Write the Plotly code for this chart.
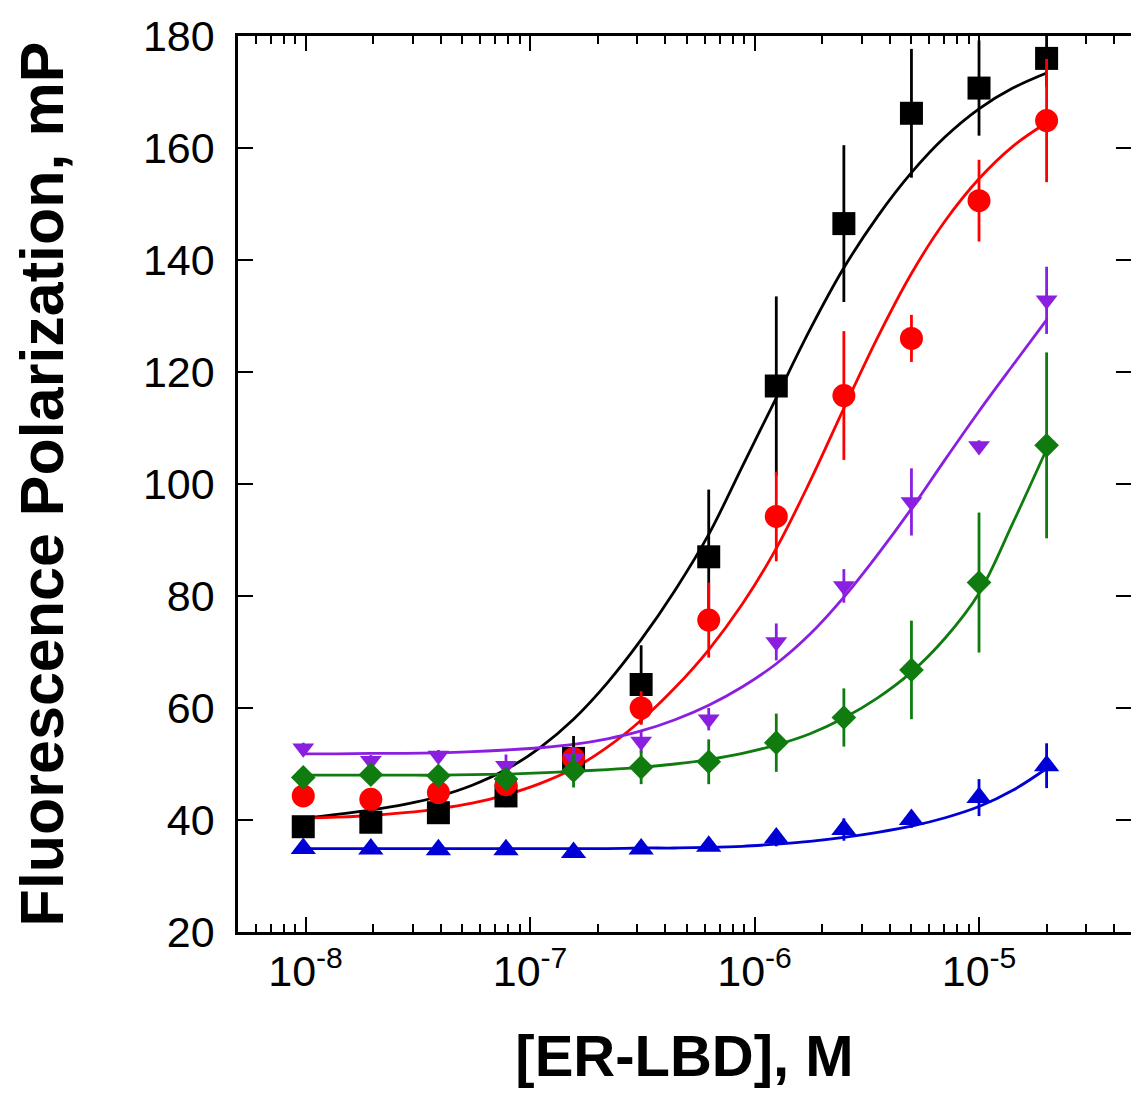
import plotly.graph_objects as go

# ---------------- data ----------------
conc = [9.766e-9, 1.953e-8, 3.906e-8, 7.813e-8, 1.5625e-7, 3.125e-7,
        6.25e-7, 1.25e-6, 2.5e-6, 5e-6, 1e-5, 2e-5]

black_y = [38.8, 39.6, 41.3, 44.3, 51.0, 64.2, 87.0, 117.5, 146.5, 166.2, 170.7, 176.0]
black_err = [1.0, 1.0, 1.0, 2.0, 4.0, 7.0, 12.0, 16.0, 14.0, 11.5, 8.5, 5.0]

red_y = [44.3, 43.7, 44.9, 46.3, 51.0, 60.0, 75.7, 94.2, 115.8, 126.0, 150.6, 164.9]
red_err = [1.0, 1.0, 1.0, 1.0, 2.0, 3.0, 6.7, 8.0, 11.5, 4.2, 7.3, 11.0]

purple_y = [52.8, 50.6, 51.5, 49.7, 51.0, 54.0, 58.0, 71.8, 81.8, 96.8, 106.8, 132.8]
purple_err = [1.0, 1.0, 1.0, 2.0, 2.0, 2.0, 2.0, 3.3, 3.0, 6.0, 1.0, 6.0]

green_y = [47.6, 48.1, 47.9, 47.3, 48.8, 49.4, 50.4, 53.8, 58.3, 66.8, 82.4, 106.9]
green_err = [1.0, 1.0, 1.0, 1.0, 3.0, 3.0, 4.0, 5.2, 5.2, 8.8, 12.5, 16.6]

blue_y = [34.9, 34.8, 34.7, 34.7, 34.2, 34.8, 35.3, 36.8, 38.3, 40.1, 44.0, 49.7]
blue_err = [0.5, 0.5, 0.5, 0.5, 0.5, 0.5, 0.8, 1.5, 2.0, 1.5, 3.3, 4.0]

# fitted curves
fit_x = [9.766e-9, 1.381e-8, 1.953e-8, 2.762e-8, 3.906e-8, 5.524e-8, 7.813e-8,
         1.105e-7, 1.5625e-7, 2.210e-7, 3.125e-7, 4.419e-7, 6.25e-7, 8.839e-7,
         1.25e-6, 1.768e-6, 2.5e-6, 3.536e-6, 5e-6, 7.071e-6, 1e-5, 1.414e-5, 2e-5]
fit_black = [40.3, 41.0, 41.8, 42.8, 44.2, 46.2, 49.0, 52.9, 58.0, 64.5, 72.2, 81.0,
             91.0, 103.2, 115.4, 127.6, 138.6, 147.8, 155.6, 162.0, 167.0, 170.7, 173.4]
fit_red = [40.3, 40.5, 40.8, 41.3, 42.0, 43.0, 44.5, 46.5, 49.2, 53.0, 57.8, 63.6,
           70.4, 78.6, 88.5, 100.5, 113.5, 126.2, 137.6, 147.0, 154.5, 160.3, 164.5]
fit_purple = [51.8, 51.8, 51.9, 51.9, 52.0, 52.2, 52.5, 52.9, 53.5, 54.5, 55.9, 57.9,
              60.5, 63.8, 67.9, 73.2, 79.8, 87.4, 95.6, 104.4, 113.0, 121.2, 129.3]
fit_green = [48.0, 48.0, 48.0, 48.0, 48.0, 48.1, 48.2, 48.4, 48.7, 49.0, 49.4, 50.0,
             50.8, 51.9, 53.4, 55.4, 58.2, 61.8, 66.4, 72.5, 80.5, 93.0, 106.2]
fit_blue = [34.9, 34.9, 34.9, 34.9, 34.9, 34.9, 34.9, 34.9, 34.9, 34.9, 35.0, 35.0,
            35.1, 35.3, 35.7, 36.2, 36.9, 37.8, 38.9, 40.4, 42.4, 45.3, 49.2]

x_tickvals = [1e-8, 1e-7, 1e-6, 1e-5]
x_ticktext = ["10<sup>-8</sup>", "10<sup>-7</sup>", "10<sup>-6</sup>", "10<sup>-5</sup>"]
y_tickvals = [20, 40, 60, 80, 100, 120, 140, 160, 180]
y_range = [20, 180]

# ---------------- figure ----------------
series = [
    ("black", black_y, black_err, fit_black, "#000000", "square", 23),
    ("red", red_y, red_err, fit_red, "#ff0000", "circle", 23),
    ("blue", blue_y, blue_err, fit_blue, "#0000d6", "triangle-up", 22),
    ("purple", purple_y, purple_err, fit_purple, "#8b1fe0", "triangle-down", 19),
    ("green", green_y, green_err, fit_green, "#107c10", "diamond", 19),
]

fig = go.Figure()
for name, ys, errs, fit, col, sym, size in series:
    fig.add_trace(go.Scatter(
        x=fit_x, y=fit, mode="lines", line=dict(color=col, width=2.8, shape="spline"),
        showlegend=False, hoverinfo="skip"))
for name, ys, errs, fit, col, sym, size in series:
    fig.add_trace(go.Scatter(
        x=conc, y=ys, mode="markers", name=name,
        marker=dict(symbol=sym, size=size, color=col, line=dict(width=0)),
        error_y=dict(type="data", array=errs, visible=True, color=col,
                     thickness=2.8, width=0),
        showlegend=False))
# empty trace just to anchor the right-hand tick axis
fig.add_trace(go.Scatter(x=[], y=[], yaxis="y2", showlegend=False, hoverinfo="skip"))

minor_vals = [m * 10.0 ** e for e in range(-9, -4) for m in range(2, 10)]

font_main = "Liberation Sans, Arial, sans-serif"

fig.update_xaxes(
    type="log", range=[-8.301, -4.323],
    tickmode="array", tickvals=x_tickvals, ticktext=x_ticktext,
    ticks="inside", ticklen=15, tickwidth=2, tickcolor="black",
    minor=dict(tickmode="array", tickvals=minor_vals, ticks="inside",
               ticklen=8, tickwidth=2, tickcolor="black", showgrid=False),
    showline=True, linecolor="black", linewidth=2.5, mirror="ticks",
    showgrid=False, zeroline=False,
    tickfont=dict(family=font_main, size=43, color="black"),
    ticklabelstandoff=0,
    title=dict(text="<b>[ER-LBD], M</b>",
               font=dict(family=font_main, size=58, color="black"), standoff=42),
)

fig.update_layout(
    width=1131, height=1094,
    margin=dict(l=238, r=0, t=36, b=162),
    plot_bgcolor="white", paper_bgcolor="white",
    yaxis=dict(
        range=y_range, tickmode="array", tickvals=y_tickvals,
        ticks="inside", ticklen=15, tickwidth=2, tickcolor="black",
        showline=True, linecolor="black", linewidth=2.5, mirror=False,
        showgrid=False, zeroline=False,
        tickfont=dict(family=font_main, size=43, color="black"),
        ticklabelstandoff=12,
        title=dict(text="<b>Fluorescence Polarization, mP</b>",
                   font=dict(family=font_main, size=61, color="black"), standoff=60),
    ),
    yaxis2=dict(
        overlaying="y", side="right", range=y_range,
        tickmode="array", tickvals=y_tickvals,
        ticks="inside", ticklen=15, tickwidth=2, tickcolor="black",
        showticklabels=False, showline=False, showgrid=False, zeroline=False,
    ),
)

fig.write_html("out.html",
               config={"displayModeBar": False},
               post_script="document.body.style.margin='0';"
                           "document.body.style.overflow='hidden';")
